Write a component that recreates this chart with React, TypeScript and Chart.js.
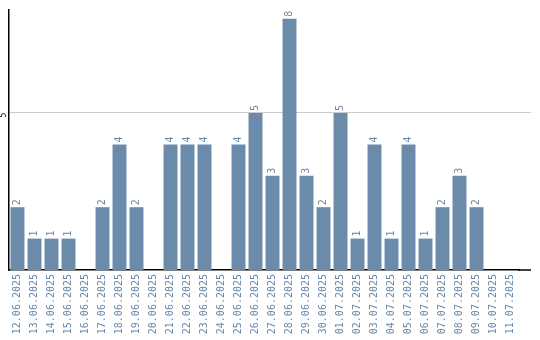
import React, { useEffect, useRef } from "react";
import { Chart, registerables } from "chart.js";

Chart.register(...registerables);

const dates = [
  "12.06.2025", "13.06.2025", "14.06.2025", "15.06.2025", "16.06.2025",
  "17.06.2025", "18.06.2025", "19.06.2025", "20.06.2025", "21.06.2025",
  "22.06.2025", "23.06.2025", "24.06.2025", "25.06.2025", "26.06.2025",
  "27.06.2025", "28.06.2025", "29.06.2025", "30.06.2025", "01.07.2025",
  "02.07.2025", "03.07.2025", "04.07.2025", "05.07.2025", "06.07.2025",
  "07.07.2025", "08.07.2025", "09.07.2025", "10.07.2025", "11.07.2025",
];
const counts = [
  2, 1, 1, 1, 0, 2, 4, 2, 0, 4,
  4, 4, 0, 4, 5, 3, 8, 3, 2, 5,
  1, 4, 1, 4, 1, 2, 3, 2, 0, 0,
];
const yMax = 8.28;
const yTickValues = [5];

const BAR_COLOR = "#6b8bab";
const TEXT_COLOR = "#6787a9";
const GRID_COLOR = "#cccccc";
const MONO = "'DejaVu Sans Mono', 'Liberation Mono', monospace";
const EXTEND = 12;

const alignPx = (p: number, w: number) => Math.round(p - w / 2) + w / 2;

const overlay = {
  id: "overlay",
  beforeDatasetsDraw(chart: any) {
    const ctx = chart.ctx as CanvasRenderingContext2D;
    const a = chart.chartArea;
    const y = chart.scales.y;
    ctx.save();
    ctx.strokeStyle = GRID_COLOR;
    ctx.lineWidth = 1;
    yTickValues.forEach((v) => {
      const py = alignPx(y.getPixelForValue(v), 1);
      ctx.beginPath();
      ctx.moveTo(a.right - 1, py);
      ctx.lineTo(a.right + EXTEND, py);
      ctx.stroke();
    });
    ctx.restore();
  },
  afterDraw(chart: any) {
    const ctx = chart.ctx as CanvasRenderingContext2D;
    const meta = chart.getDatasetMeta(0);
    const data = chart.data.datasets[0].data as number[];
    ctx.save();
    ctx.fillStyle = TEXT_COLOR;
    ctx.font = `10px ${MONO}`;
    ctx.textAlign = "left";
    ctx.textBaseline = "middle";
    meta.data.forEach((bar: any, i: number) => {
      const v = data[i];
      if (!v) return;
      ctx.save();
      ctx.translate(bar.x, bar.y - 2);
      ctx.rotate(-Math.PI / 2);
      ctx.fillText(String(v), 0, 0);
      ctx.restore();
    });
    const y = chart.scales.y;
    ctx.fillStyle = "#000";
    ctx.font = `8px ${MONO}`;
    ctx.textAlign = "center";
    ctx.textBaseline = "middle";
    yTickValues.forEach((v) => {
      ctx.save();
      ctx.translate(4, y.getPixelForValue(v) + 2);
      ctx.rotate(-Math.PI / 2);
      ctx.fillText(String(v), 0, 0);
      ctx.restore();
    });
    const a = chart.chartArea;
    ctx.strokeStyle = "#000";
    ctx.lineWidth = 1.5;
    ctx.beginPath();
    ctx.moveTo(a.right - 1, a.bottom);
    ctx.lineTo(a.right + EXTEND, a.bottom);
    ctx.stroke();
    ctx.restore();
  },
};

export default function App() {
  const ref = useRef<HTMLCanvasElement | null>(null);
  useEffect(() => {
    if (!ref.current) return;
    const chart = new Chart(ref.current, {
      type: "bar",
      data: {
        labels: dates,
        datasets: [
          {
            data: counts,
            backgroundColor: BAR_COLOR,
            borderWidth: 0,
            barPercentage: 0.82,
            categoryPercentage: 1,
          },
        ],
      },
      options: {
        animation: false,
        responsive: false,
        maintainAspectRatio: false,
        layout: { padding: { top: 10, right: 21, left: 0, bottom: 0 } },
        plugins: { legend: { display: false }, tooltip: { enabled: false } },
        scales: {
          x: {
            grid: { display: false, drawTicks: false },
            border: { display: true, color: "#000", width: 1.5 },
            ticks: {
              autoSkip: false,
              minRotation: 90,
              maxRotation: 90,
              padding: 4,
              color: TEXT_COLOR,
              font: { family: MONO, size: 10 },
            },
            afterFit: (s: any) => {
              s.height = 70;
            },
          },
          y: {
            min: 0,
            max: yMax,
            grid: { color: GRID_COLOR, lineWidth: 1, drawTicks: false },
            border: { display: true, color: "#000", width: 1.5 },
            ticks: { display: false },
            afterBuildTicks: (s: any) => {
              s.ticks = yTickValues.map((v) => ({ value: v }));
            },
            afterFit: (s: any) => {
              s.width = 9;
            },
          },
        },
      },
      plugins: [overlay],
    });
    return () => chart.destroy();
  }, []);
  return (
    <div style={{ position: "absolute", left: 0, top: 0, width: 540, height: 340, background: "#fff" }}>
      <canvas ref={ref} width={540} height={340} />
    </div>
  );
}
